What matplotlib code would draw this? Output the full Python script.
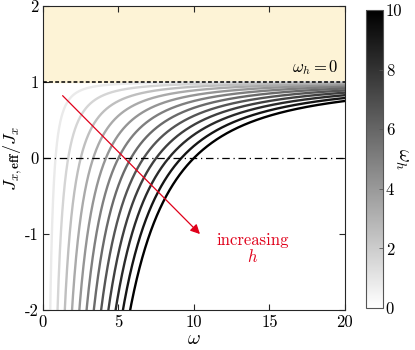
import numpy as np
import matplotlib
matplotlib.use("Agg")
import matplotlib.pyplot as plt
from matplotlib.colors import LinearSegmentedColormap, Normalize
from matplotlib.cm import ScalarMappable

plt.rcParams['font.family'] = 'serif'
plt.rcParams['font.serif'] = ['cmr10', 'DejaVu Serif']
plt.rcParams['mathtext.fontset'] = 'cm'
plt.rcParams['axes.unicode_minus'] = False
plt.rcParams['axes.formatter.use_mathtext'] = False
plt.rcParams['font.size'] = 12

# drive frequencies omega_h of the curves (read from where they cross zero)
omega_h = [0.83, 1.67, 2.5, 3.33, 4.17, 5.0, 5.83, 6.67, 7.5, 8.33, 9.17, 10.0]
xticks = [0, 5, 10, 15, 20]
yticks = [-2, -1, 0, 1, 2]
cbar_ticks = [0, 2, 4, 6, 8, 10]

omega = np.linspace(0.05, 20, 2000)

cmap = LinearSegmentedColormap.from_list('wk', ['white', 'black'])
norm = Normalize(0, 10)

fig = plt.figure(figsize=(4.15, 3.5), dpi=100)
ax = fig.add_axes([0.1036, 0.114, 0.7274, 0.869])

ax.axhspan(1, 2, color='#fdf3d6', zorder=0)
for h in omega_h:
    J = 1 - (h / omega) ** 2
    J[J < -2.5] = np.nan
    ax.plot(omega, J, color=cmap(norm(h)), lw=1.7, zorder=2)

ax.axhline(1, color='black', ls=(0, (2.5, 1.5)), lw=1.1, zorder=3)
ax.axhline(0, color='black', ls=(0, (6, 3, 1, 3)), lw=0.9, zorder=3)
ax.text(19.6, 1.07, r'$\omega_h = 0$', ha='right', va='bottom', fontsize=12)

ax.annotate('', xy=(10.4, -1.0), xytext=(1.3, 0.82),
            arrowprops=dict(arrowstyle='-|>', color='#e0001a', lw=0.9,
                            mutation_scale=14, shrinkA=0, shrinkB=0), zorder=4)
ax.text(13.9, -1.2, 'increasing\n$h$', color='#e0001a', ha='center', va='center',
        fontsize=12, linespacing=1.0)

ax.set_xlim(0, 20)
ax.set_ylim(-2, 2)
ax.set_xticks(xticks)
ax.set_yticks(yticks)
ax.tick_params(direction='in', top=True, right=True, length=4, width=0.8, pad=3,
               colors='#262626', labelcolor='black', labelsize=12)
for s in ax.spines.values():
    s.set_color('#262626')
    s.set_linewidth(0.8)
ax.set_xlabel(r'$\omega$', fontsize=14, labelpad=0)
ax.set_ylabel(r'$J_{x,\mathbf{eff}}/J_x$', fontsize=13, labelpad=1)

cax = fig.add_axes([0.882, 0.12, 0.041, 0.851])
cb = fig.colorbar(ScalarMappable(norm=norm, cmap=cmap), cax=cax, ticks=cbar_ticks)
cb.outline.set_edgecolor('#555555')
cb.outline.set_linewidth(0.8)
cax.tick_params(direction='in', length=3, width=0.6, colors='#555555', labelcolor='black',
                labelsize=12, pad=2)
cb.set_label(r'$\omega_h$', rotation=270, fontsize=14, labelpad=6)

fig.savefig('out.png', dpi=100)
